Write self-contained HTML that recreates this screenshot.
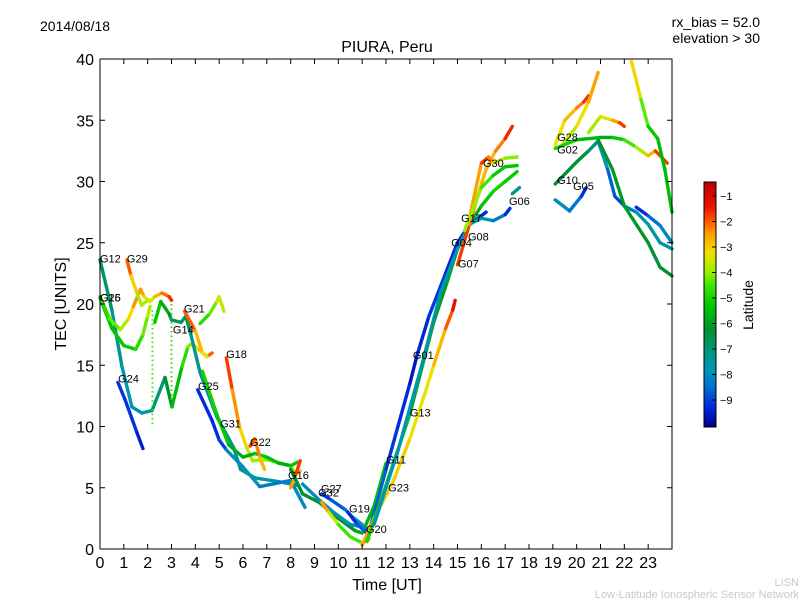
<!DOCTYPE html>
<html><head><meta charset="utf-8"><style>
body{margin:0;background:#fff;}
svg{display:block;font-family:"Liberation Sans","DejaVu Sans",sans-serif;}
</style></head><body>
<svg id="chart" width="800" height="600" viewBox="0 0 800 600" xmlns="http://www.w3.org/2000/svg">
<rect width="800" height="600" fill="#fff"/>
<text x="40" y="31" font-size="14">2014/08/18</text>
<text x="760" y="27" font-size="14" text-anchor="end">rx_bias = 52.0</text>
<text x="760" y="43" font-size="14" text-anchor="end">elevation &gt; 30</text>
<text x="387" y="52" font-size="16" text-anchor="middle">PIURA, Peru</text>
<text x="387" y="590" font-size="16" text-anchor="middle">Time [UT]</text>
<text x="66" y="304" font-size="16" text-anchor="middle" transform="rotate(-90 66 304)">TEC [UNITS]</text>
<text x="753" y="305" font-size="14" text-anchor="middle" transform="rotate(-90 753 305)">Latitude</text>
<text x="799" y="586" font-size="11" fill="#c8c8c8" text-anchor="end">LISN</text>
<text x="799" y="598" font-size="11" fill="#c8c8c8" text-anchor="end">Low-Latitude Ionospheric Sensor Network</text>
<g id="plot"></g>
<g id="cbar"></g>
</svg>
<script>
const xTicks=[0,1,2,3,4,5,6,7,8,9,10,11,12,13,14,15,16,17,18,19,20,21,22,23];
const yTicks=[0,5,10,15,20,25,30,35,40];
const cbTicks=[-1,-2,-3,-4,-5,-6,-7,-8,-9];
const latMin=-10.06, latMax=-0.45;
// tracks: [time, tec, latitude]
const tG12=[[0,23.6,-6.5],[0.5,19.5,-7],[0.92,14.9,-7.5],[1.34,11.6,-8],[1.76,11.1,-8],[2.18,11.3,-7.5],[2.73,14.0,-6.5],[3.02,11.6,-6],[3.44,14.9,-5],[3.69,16.5,-4.5],[3.86,16.8,-3.8],[4.2,16.2,-3],[4.49,15.7,-2.5],[4.7,16.0,-1.5]];
const tG26=[[0,20.5,-5.5],[0.5,18,-5.2],[1.0,16.6,-5.5],[1.5,16.3,-5],[1.8,17.5,-4.5],[2.0,19.0,-4],[2.1,19.8,-3.5]];
const tG15=[[0,20.6,-5],[0.4,18.8,-4.5],[0.85,17.9,-4],[1.2,18.8,-3.5],[1.4,19.8,-2.8],[1.7,21.2,-2],[1.85,20.6,-3],[2.1,20.2,-3.8],[2.3,20.6,-3],[2.6,20.9,-2.5],[2.9,20.6,-1.8],[3.0,20.3,-1.5]];
const tG29=[[1.13,23.6,-1.5],[1.3,22.3,-2.5],[1.55,20.9,-3.5],[1.75,19.9,-4],[2.0,20.3,-3.5]];
const tG14=[[2.3,18.5,-5],[2.55,20.2,-5.5],[2.9,19.2,-6],[3.0,18.7,-6.5],[3.4,18.5,-6.8],[3.6,19.0,-6.5],[3.8,17.6,-7],[4.2,14.4,-7.5],[4.9,10.8,-7.5],[5.6,8.3,-7],[5.9,6.5,-7.5],[6.5,5.8,-7],[7.5,5.5,-8],[8.3,5.2,-8]];
const tG21a=[[3.55,19.4,-1.5],[4.0,17.8,-2.5],[4.3,16.0,-3],[4.5,15.7,-3.5]];
const tG21b=[[4.2,18.4,-5],[4.6,19.2,-4.5],[4.9,20.2,-4],[5.0,20.6,-3.3],[5.1,20.0,-3.5],[5.2,19.4,-3.8]];
const tG18=[[5.3,15.6,-1.5],[5.55,13.0,-2],[5.85,10,-2.8],[6.15,8.3,-3.3],[6.4,7.2,-4],[7.0,7.3,-4],[7.6,7.0,-4.3],[8.0,6.8,-4.5],[8.2,6.1,-3.5],[8.4,6.4,-2.5]];
const tG25=[[4.1,13.0,-9.5],[4.7,10.5,-9],[5.0,8.9,-9.5],[5.3,8.1,-8.5],[6.0,6.7,-7.5],[6.7,5.1,-8],[7.5,5.4,-8.5],[8.0,5.6,-8],[8.6,3.4,-8]];
const tG24=[[0.75,13.6,-9.3],[1.05,12.2,-9],[1.55,9.5,-9.3],[1.8,8.2,-9.6]];
const tG31=[[4.3,14.5,-5],[4.9,11.0,-5],[5.4,8.5,-5.5],[6.0,7.5,-6],[6.5,7.8,-5.5],[7.0,7.5,-5],[7.5,7.0,-6],[8.0,6.8,-5.5],[8.3,7.1,-5.2]];
const tG22=[[6.3,8.4,-1.5],[6.5,9.0,-2],[6.7,7.5,-2.5],[6.9,6.5,-3]];
const tG16=[[8.0,5.0,-3],[8.2,6.0,-2],[8.4,7.2,-1.5]];
const tA=[[8.0,6.5,-6],[8.5,4.5,-6.5],[9.2,3.8,-6],[10.0,2.5,-6.5],[10.7,1.5,-6],[11.0,1.3,-5.8],[11.5,3.5,-5.5],[12.0,7.0,-5.2]];
const tB=[[8.5,5.3,-8],[9.2,4.0,-8],[9.8,3.0,-7.5],[10.5,2.0,-8],[11.0,1.8,-8],[11.3,1.5,-8.5]];
const tC=[[9.3,3.8,-2],[9.6,3.0,-3],[10.0,2.0,-4],[10.5,1.0,-5],[11.0,0.5,-4],[11.3,0.8,-3]];
const tG32=[[9.3,4.5,-9.3],[9.7,4.0,-9],[10.3,3.2,-8.5],[10.6,2.6,-8],[11.0,2.0,-7.8]];
const tG19=[[10.4,3.0,-9.5],[10.8,2.0,-9],[11.2,1.3,-8.5]];
const tG01=[[11.3,1.5,-8],[12.0,6.5,-9.3],[12.5,10,-9],[13.0,13.5,-9.5],[13.3,15.8,-9.7],[13.8,19,-9],[14.5,22.5,-9.2],[15.0,25.0,-9.5],[15.5,26.5,-9.3],[16.0,27.2,-9],[16.2,27.5,-9.6]];
const tG13=[[11.0,0.3,-2],[11.5,2.5,-3],[12.3,5.5,-3],[13.0,9.0,-3],[13.6,12.5,-3.5],[14.0,15,-3],[14.5,18,-2.5],[14.8,19.5,-1.5],[14.9,20.3,-1.2]];
const tG08=[[11.2,0.6,-5],[12.0,5.2,-5],[13.0,11,-5.5],[14.0,18.5,-6],[14.6,22,-6],[15.0,24.5,-5.5],[15.5,26.5,-6],[16.0,28,-5.5],[16.5,29.2,-5],[17.0,30,-5],[17.5,30.8,-5.5]];
const tG17=[[11.5,2.0,-7.5],[12.5,8,-8],[13.5,15,-7.5],[14.3,21,-7.5],[15.0,24.5,-8],[15.5,26.5,-7.5],[16.0,27,-8],[16.5,26.8,-7.5],[17.0,27.3,-9],[17.2,27.8,-9.5]];
const tG07=[[15.0,23.2,-1.5],[15.5,26.5,-2],[15.8,28.5,-2.5],[16.2,31.0,-3],[16.6,32.5,-2.5],[17.0,33.5,-2],[17.3,34.5,-1.2]];
const tG30=[[15.5,27,-3],[16.0,31.5,-2],[16.3,32,-1.5],[16.5,31.5,-3],[17.0,31.9,-4],[17.5,32.0,-4.2]];
const tG04=[[15.3,26,-4],[16.0,29.5,-4],[16.5,30.5,-5],[17.0,31.2,-5.5],[17.5,31.3,-5.2]];
const tG06=[[17.3,29,-7.5],[17.6,29.5,-7]];
const tG28=[[19.1,33.0,-3.5],[19.5,35.0,-3],[20.0,36.0,-2.5],[20.3,36.5,-2],[20.5,37.0,-1.3]];
const tD=[[19.4,33.0,-4],[20.0,34.5,-3.5],[20.5,36.5,-3],[20.9,38.9,-2]];
const tG02=[[19.1,32.7,-5],[20.0,33.4,-5],[21.0,33.6,-6],[21.5,33.6,-5.5],[22.0,33.4,-5],[22.5,32.8,-4],[23.0,32.1,-3.5],[23.3,32.5,-2],[23.8,31.5,-1.5]];
const tE=[[20.5,34,-4],[21.0,35.3,-3.7],[21.5,35.0,-3],[21.8,34.8,-2],[22.0,34.5,-1.5]];
const tF=[[22.3,39.8,-2.5],[22.7,36.7,-3.7],[23.0,34.5,-5],[23.4,33.5,-5.5],[23.7,31,-5.5],[24.0,27.5,-5.5]];
const tG10=[[19.1,29.8,-6.5],[20.0,31.6,-6],[20.5,32.5,-6.5],[20.9,33.3,-7.5],[21.3,31,-8],[21.6,28.8,-9.3],[22.0,28.0,-8.5],[22.5,27.5,-8],[23.0,26.5,-7.5],[23.5,25,-7.5],[24.0,24.5,-7.8]];
const tH=[[20.9,33.4,-6.5],[21.5,31,-6],[22.0,28,-6],[22.5,26.5,-6],[23.0,25,-6.2],[23.5,23,-6.5],[24.0,22.3,-6]];
const tG05=[[19.1,28.5,-8],[19.7,27.6,-8],[20.2,28.8,-8.8],[20.4,29.5,-9.5]];
const tI=[[22.5,27.9,-9.5],[23.0,27.2,-9],[23.5,26.4,-8],[24.0,25.0,-8]];
const dotted=[[[2.2,19.5,-4.5],[2.2,10,-4.5]],[[3.0,20,-4.8],[3.0,12,-5]]];
const tracks=[tG12,tG26,tG15,tG29,tG14,tG21a,tG21b,tG18,tG25,tG24,tG31,tG22,tG16,tA,tB,tC,tG32,tG19,tG01,tG13,tG08,tG17,tG07,tG30,tG04,tG06,tG28,tD,tG02,tE,tF,tG10,tH,tG05,tI];
const labelNames=["G12","G29","G26","G15","G21","G14","G18","G24","G25","G31","G22","G16","G32","G27","G19","G20","G11","G23","G13","G01","G07","G04","G08","G17","G06","G30","G28","G02","G10","G05"];
const labelT=[0,1.13,0,0,3.52,3.06,5.29,0.76,4.11,5.04,6.29,7.89,9.15,9.27,10.45,11.16,12.0,12.09,13.0,13.13,15.02,14.73,15.44,15.15,17.16,16.07,19.18,19.18,19.18,19.85];
const labelV=[23.4,23.4,20.2,20.2,19.3,17.6,15.6,13.6,13.0,9.9,8.4,5.7,4.3,4.6,3.0,1.3,7.0,4.7,10.8,15.5,23.0,24.7,25.2,26.7,28.1,31.2,33.3,32.3,29.8,29.3];

const NS="http://www.w3.org/2000/svg";
const X0=100,X1=672,Y0=549,Y1=59;
const xs=t=>X0+(X1-X0)*t/24;
const ys=v=>Y0-(Y0-Y1)*v/40;
const cbTop=182,cbBot=427,cbX=704,cbW=12;
const cy=l=>cbBot-(cbBot-cbTop)*(l-latMin)/(latMax-latMin);
// colour stops by latitude
const stops=[[-10.06,[0,0,140]],[-9.3,[0,40,220]],[-8.5,[0,110,210]],[-7.8,[0,150,180]],[-7.0,[0,150,120]],[-6.2,[0,145,45]],[-5.3,[0,200,0]],[-4.5,[60,230,0]],[-4.0,[150,240,0]],[-3.2,[240,225,0]],[-2.5,[255,160,0]],[-2.0,[255,90,0]],[-1.4,[230,20,0]],[-0.45,[190,0,0]]];
function latColor(l){
 if(l<=stops[0][0])return `rgb(${stops[0][1]})`;
 for(let i=0;i<stops.length-1;i++){
  const a=stops[i],b=stops[i+1];
  if(l<=b[0]){const f=(l-a[0])/(b[0]-a[0]);
   const c=a[1].map((v,k)=>Math.round(v+(b[1][k]-v)*f));return `rgb(${c})`;}
 }
 return `rgb(${stops[stops.length-1][1]})`;
}
function el(tag,attrs,parent){const e=document.createElementNS(NS,tag);for(const k in attrs)e.setAttribute(k,attrs[k]);parent.appendChild(e);return e;}
const plot=document.getElementById('plot');
tracks.forEach(tr=>{
 const g=el('g',{},plot);
 
 
 for(let k=0;k<tr.length-1;k++){
  const a=tr[k],b=tr[k+1];
  const l=el('line',{x1:xs(a[0]),y1:ys(a[1]),x2:xs(b[0]),y2:ys(b[1]),stroke:latColor((a[2]+b[2])/2),'stroke-width':3.4,'stroke-linecap':'round'},g);
  
  
 }
});
dotted.forEach(tr=>{
 const a=tr[0],b=tr[1];
 const l=el('line',{x1:xs(a[0]),y1:ys(a[1]),x2:xs(b[0]),y2:ys(b[1]),stroke:latColor(a[2]),'stroke-width':2,'stroke-dasharray':'1.5 3'},plot);
 
 
});
labelNames.forEach((n,i)=>{
 const t=el('text',{x:xs(labelT[i]),y:ys(labelV[i]),'font-size':11},plot);
 
 
 t.textContent=n;
});
const fr=el('rect',{x:X0,y:Y1,width:X1-X0,height:Y0-Y1,fill:'none',stroke:'#000','stroke-width':1},plot);


xTicks.forEach(t=>{
 const x=xs(t);
 el('line',{x1:x,y1:Y0,x2:x,y2:Y0-5,stroke:'#000'},plot);
 el('line',{x1:x,y1:Y1,x2:x,y2:Y1+5,stroke:'#000'},plot);
 const tx=el('text',{x:x,y:Y0+19,'font-size':16,'text-anchor':'middle'},plot);
 
 
 tx.textContent=t;
});
yTicks.forEach(v=>{
 const y=ys(v);
 el('line',{x1:X0,y1:y,x2:X0+5,y2:y,stroke:'#000'},plot);
 el('line',{x1:X1,y1:y,x2:X1-5,y2:y,stroke:'#000'},plot);
 const tx=el('text',{x:X0-6,y:y+6,'font-size':16,'text-anchor':'end'},plot);
 
 
 tx.textContent=v;
});
const cb=document.getElementById('cbar');
for(let i=0;i<245;i++){
 const y=cbBot-i-1;
 const lat=latMin+(latMax-latMin)*(i+0.5)/245;
 el('rect',{x:cbX,y:y,width:cbW,height:1.2,fill:latColor(lat)},cb);
}
const cbf=el('rect',{x:cbX,y:cbTop,width:cbW,height:cbBot-cbTop,fill:'none',stroke:'#000'},cb);


cbTicks.forEach(l=>{
 const y=cy(l);
 el('line',{x1:cbX+cbW-4,y1:y,x2:cbX+cbW,y2:y,stroke:'#000'},cb);
 const tx=el('text',{x:cbX+cbW+4,y:y+4,'font-size':11},cb);
 
 
 tx.textContent='\u2212'+Math.abs(l);
});
</script>
</body></html>
